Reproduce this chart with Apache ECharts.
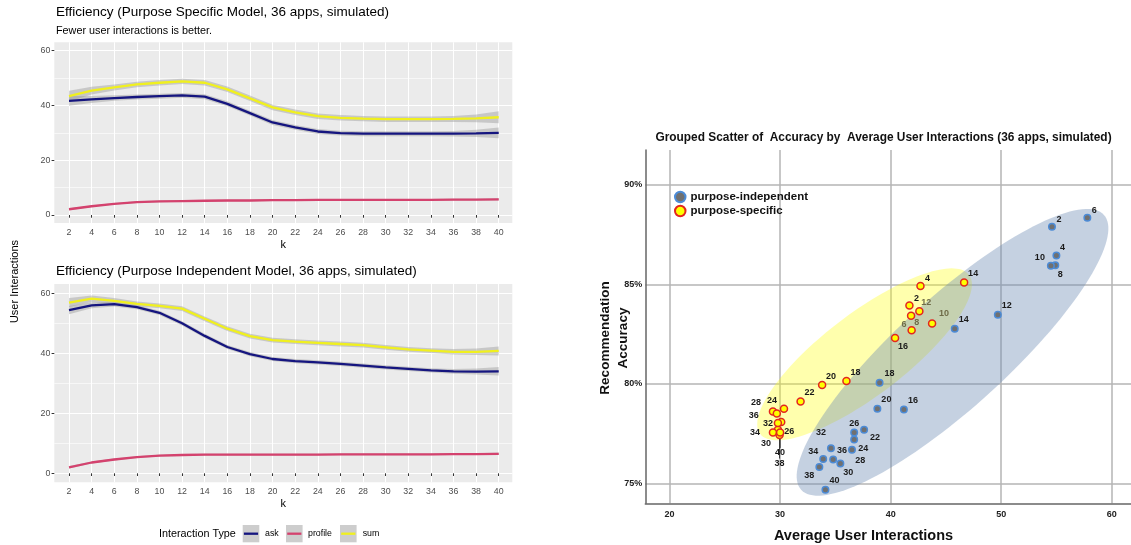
<!DOCTYPE html>
<html>
<head>
<meta charset="utf-8">
<script src="https://cdn.jsdelivr.net/npm/echarts@6/dist/echarts.min.js"></script>
<style>
  html, body { margin: 0; padding: 0; background: #ffffff; }
  #chart { width: 1131px; height: 545px; }
</style>
</head>
<body>
<div id="chart"></div>
<script>
// ---- data -------------------------------------------------------------
const kSteps = [2, 4, 6, 8, 10, 12, 14, 16, 18, 20, 22, 24, 26, 28, 30, 32, 34, 36, 38, 40];
const countTicks = [0, 20, 40, 60];
const countMinor = [10, 30, 50];

// Purpose specific model: mean interactions per k and half-width of the band
const specificAsk     = [41.7, 42.2, 42.7, 43.1, 43.4, 43.7, 43.2, 40.6, 37.2, 33.8, 32.0, 30.5, 29.9, 29.7, 29.7, 29.7, 29.7, 29.7, 29.8, 30.0];
const specificProfile = [2.1, 3.2, 4.1, 4.7, 5.0, 5.1, 5.2, 5.3, 5.3, 5.4, 5.4, 5.5, 5.5, 5.5, 5.5, 5.5, 5.5, 5.6, 5.6, 5.7];
const specificSum     = [43.4, 45.4, 46.6, 47.7, 48.3, 48.8, 48.3, 45.9, 42.6, 39.3, 37.5, 36.1, 35.5, 35.2, 35.0, 35.0, 35.0, 35.1, 35.3, 35.7];
const specificAskSe     = [1.8, 1.3, 1.0, 0.9, 0.9, 0.9, 0.9, 0.9, 0.9, 0.9, 0.9, 0.9, 0.9, 0.9, 0.9, 0.9, 0.9, 1.0, 1.3, 2.0];
const specificProfileSe = [0.4, 0.3, 0.3, 0.3, 0.3, 0.3, 0.3, 0.3, 0.3, 0.3, 0.3, 0.3, 0.3, 0.3, 0.3, 0.3, 0.3, 0.3, 0.3, 0.4];
const specificSumSe     = [2.0, 1.4, 1.1, 1.0, 1.0, 1.0, 1.0, 1.0, 1.0, 1.0, 1.0, 1.0, 1.0, 1.0, 1.0, 1.0, 1.0, 1.1, 1.4, 2.2];

// Purpose independent model
const independentAsk     = [54.4, 56.0, 56.4, 55.4, 53.5, 50.0, 45.8, 42.1, 39.7, 38.1, 37.4, 37.0, 36.5, 35.9, 35.3, 34.8, 34.3, 34.0, 33.9, 34.0];
const independentProfile = [2.0, 3.6, 4.6, 5.4, 5.9, 6.1, 6.2, 6.2, 6.2, 6.2, 6.2, 6.2, 6.3, 6.3, 6.3, 6.3, 6.3, 6.4, 6.4, 6.5];
const independentSum     = [56.9, 58.2, 57.5, 56.5, 55.8, 54.9, 51.5, 48.2, 45.7, 44.4, 43.9, 43.5, 43.1, 42.7, 42.0, 41.3, 40.9, 40.5, 40.5, 40.8];
const independentAskSe     = [1.4, 1.0, 0.8, 0.7, 0.7, 0.7, 0.7, 0.7, 0.7, 0.7, 0.7, 0.7, 0.7, 0.7, 0.7, 0.7, 0.7, 0.8, 1.0, 1.4];
const independentProfileSe = [0.4, 0.3, 0.3, 0.3, 0.3, 0.3, 0.3, 0.3, 0.3, 0.3, 0.3, 0.3, 0.3, 0.3, 0.3, 0.3, 0.3, 0.3, 0.3, 0.4];
const independentSumSe     = [1.5, 1.1, 0.9, 0.8, 0.8, 0.8, 0.8, 0.8, 0.8, 0.8, 0.8, 0.8, 0.8, 0.8, 0.8, 0.8, 0.8, 0.9, 1.1, 1.5];

// Accuracy vs. average user interactions, one point per k
const independentX = [54.6, 55.0, 57.8, 54.9, 54.5, 49.7, 45.8, 41.2, 39.0, 38.8, 37.6, 36.7, 36.7, 35.45, 34.8, 34.6, 33.9, 36.5, 33.55, 34.1];
const independentY = [87.9, 86.45, 88.35, 85.96, 85.93, 83.47, 82.77, 78.71, 80.06, 78.75, 77.70, 77.21, 77.56, 76.00, 76.20, 76.76, 76.22, 76.69, 75.82, 74.68];
const specificX = [41.7, 42.7, 41.85, 41.9, 43.75, 42.6, 46.65, 40.4, 36.0, 33.8, 31.85, 30.35, 30.1, 29.35, 29.8, 29.8, 29.35, 29.7, 29.95, 30.0];
const specificY = [83.94, 84.92, 83.42, 82.70, 83.03, 83.65, 85.09, 82.30, 80.14, 79.94, 79.12, 78.75, 78.08, 78.61, 77.70, 78.03, 77.56, 78.51, 77.43, 77.56];
const interactionTicks = [20, 30, 40, 50, 60];
const accuracyTicks = [75, 80, 85, 90];

// Group regions: two ends of the major axis, then one end of the minor axis
const independentRegion = [[31.9, 74.68], [59.3, 88.49], [42.25, 83.63]];
const specificRegion = [[28.19, 77.49], [47.09, 85.48], [35.38, 83.12]];

// ---- label placement (pixel nudges from each point, in k order) -------
const independentNudge = [[7,-7],[6,-8],[7,-7],[5,9],[-11,-8],[9,-9],[9,-9],[9,-9],[10,-9],[9,-9],
                          [11,8],[9,9],[0,-9],[20,-3],[15,13],[-10,-16],[-10,-8],[-10,1],[-10,8],[9,-9]];
const specificNudge = [[7,-7],[7,-7],[-7,9],[5,-8],[12,-10],[7,-9],[9,-9],[8,8],[9,-9],[9,-9],
                       [9,-9],[-12,-8],[8,9],[-17,-9],[-12,14],[-10,0],[-18,0],[-23,2],[0,28],[0,20]];
const mutedLabels = [6, 8, 10, 12];
const ledLabels = [38, 40];

// ---- styling ------------------------------------------------------------
const FONT = '"Liberation Sans", Arial, Helvetica, sans-serif';
const COL_ASK = '#15157f';
const COL_PROFILE = '#d4426e';
const COL_SUM = '#f0f01e';
const BAND = 'rgba(150,150,150,0.42)';

function bandSeries(xi, mid, se, withMinor) {
  const rows = kSteps.map((k, i) => [k, mid[i] - se[i], mid[i] + se[i]]);
  const s = {
    type: 'custom', xAxisIndex: xi, yAxisIndex: xi, z: 2, silent: true,
    data: rows, encode: { x: 0, y: [1, 2] },
    renderItem(params, api) {
      if (params.dataIndex !== 0) return null;
      const upper = rows.map(r => api.coord([r[0], r[2]]));
      const lower = rows.map(r => api.coord([r[0], r[1]])).reverse();
      return { type: 'polygon', shape: { points: upper.concat(lower) }, style: { fill: BAND } };
    }
  };
  if (withMinor) {
    s.markLine = {
      silent: true, symbol: 'none', z: 1, animation: false,
      label: { show: false },
      lineStyle: { color: '#ffffff', width: 0.6, type: 'solid', opacity: 1 },
      emphasis: { disabled: true },
      data: countMinor.map(v => ({ yAxis: v }))
    };
  }
  return s;
}

function lineSeries(name, xi, vals, color) {
  return {
    type: 'line', name, xAxisIndex: xi, yAxisIndex: xi, z: 3,
    data: kSteps.map((k, i) => [k, vals[i]]),
    symbol: 'none', silent: true,
    lineStyle: { color, width: 2.3 },
    itemStyle: { color }
  };
}

function regionSeries(name, pts, fill) {
  return {
    type: 'custom', name, xAxisIndex: 2, yAxisIndex: 2, z: 1, silent: true,
    data: pts, encode: { x: 0, y: 1 },
    renderItem(params, api) {
      if (params.dataIndex !== 0) return null;
      const a0 = api.coord(pts[0]), a1 = api.coord(pts[1]), co = api.coord(pts[2]);
      const cx = (a0[0] + a1[0]) / 2, cy = (a0[1] + a1[1]) / 2;
      const dx = a1[0] - a0[0], dy = a1[1] - a0[1];
      const len = Math.hypot(dx, dy), ux = dx / len, uy = dy / len;
      const ra = len / 2;
      const rb = Math.abs((co[0] - cx) * (-uy) + (co[1] - cy) * ux);
      const points = [];
      for (let i = 0; i < 144; i++) {
        const t = i / 144 * 2 * Math.PI;
        const c = Math.cos(t) * ra, s = Math.sin(t) * rb;
        points.push([cx + c * ux - s * uy, cy + c * uy + s * ux]);
      }
      return { type: 'polygon', shape: { points }, style: { fill } };
    }
  };
}

function pointSeries(name, xs, ys, nudge, look) {
  return {
    type: 'scatter', name, xAxisIndex: 2, yAxisIndex: 2, z: 4,
    symbol: 'circle', symbolSize: look.size,
    itemStyle: { color: look.fill, borderColor: look.border, borderWidth: 1.5, opacity: 1 },
    data: xs.map((x, i) => {
      const item = { value: [x, ys[i]] };
      if (look.muted && mutedLabels.includes(kSteps[i])) item.label = { color: '#6f6c48' };
      if (look.led && ledLabels.includes(kSteps[i])) item.labelLine = { show: true };
      return item;
    }),
    label: {
      show: true, position: 'inside', align: 'center', verticalAlign: 'middle',
      formatter: p => String(kSteps[p.dataIndex]),
      fontFamily: FONT, fontSize: 9, fontWeight: 'bold', color: '#1a1a1a'
    },
    labelLine: { show: false, lineStyle: { color: '#333333', width: 1 } },
    labelLayout: p => ({ dx: nudge[p.dataIndex][0], dy: nudge[p.dataIndex][1] }),
    emphasis: { disabled: true }
  };
}

function countXAxis(gi) {
  return {
    gridIndex: gi, type: 'value', min: 0.7, max: 41.2,
    name: 'k', nameLocation: 'middle', nameGap: 16,
    nameTextStyle: { fontFamily: FONT, fontSize: 11, color: '#000' },
    axisLine: { show: false },
    axisTick: { show: true, length: 2.7, customValues: kSteps, lineStyle: { color: '#333', width: 1 } },
    axisLabel: { customValues: kSteps, fontFamily: FONT, fontSize: 8.8, color: '#4d4d4d', margin: 5 },
    splitLine: { show: true, lineStyle: { color: '#ffffff', width: 1.1 } }
  };
}
function countYAxis(gi, lo, hi) {
  return {
    gridIndex: gi, type: 'value', min: lo, max: hi,
    axisLine: { show: false },
    axisTick: { show: true, length: 2.7, customValues: countTicks, lineStyle: { color: '#333', width: 1 } },
    axisLabel: { customValues: countTicks, fontFamily: FONT, fontSize: 8.8, color: '#4d4d4d', margin: 4 },
    splitLine: { show: true, lineStyle: { color: '#ffffff', width: 1.1 } }
  };
}

const keyX = [242.7, 286, 340];
const keyNames = ['ask', 'profile', 'sum'];
const keyColors = [COL_ASK, COL_PROFILE, COL_SUM];
const keyTextX = [265, 308, 362.7];
const legendParts = [
  { type: 'text', x: 159, y: 534, style: { text: 'Interaction Type', fontFamily: FONT, fontSize: 10.8, fill: '#000', align: 'left', verticalAlign: 'middle' } }
];
keyNames.forEach((n, i) => {
  legendParts.push({ type: 'rect', shape: { x: keyX[i], y: 525, width: 16.6, height: 17.3 }, style: { fill: '#cdcdcd' } });
  legendParts.push({ type: 'line', shape: { x1: keyX[i] + 1.2, y1: 533.7, x2: keyX[i] + 15.4, y2: 533.7 }, style: { stroke: keyColors[i], lineWidth: 2.3 } });
  legendParts.push({ type: 'text', x: keyTextX[i], y: 534, style: { text: n, fontFamily: FONT, fontSize: 8.8, fill: '#000', align: 'left', verticalAlign: 'middle' } });
});

const option = {
  animation: false,
  backgroundColor: '#ffffff',
  title: [
    { text: 'Efficiency (Purpose Specific Model, 36 apps, simulated)', left: 56, top: 5, padding: 0,
      textStyle: { fontFamily: FONT, fontSize: 13.5, fontWeight: 'normal', color: '#000' } },
    { text: 'Fewer user interactions is better.', left: 56, top: 26, padding: 0,
      textStyle: { fontFamily: FONT, fontSize: 10.8, fontWeight: 'normal', color: '#000' } },
    { text: 'Efficiency (Purpose Independent Model, 36 apps, simulated)', left: 56, top: 264.5, padding: 0,
      textStyle: { fontFamily: FONT, fontSize: 13.5, fontWeight: 'normal', color: '#000' } }
  ],
  legend: {
    data: ['purpose-independent', 'purpose-specific'],
    orient: 'vertical', left: 674, top: 190, padding: 0,
    itemWidth: 10.5, itemHeight: 10.5, itemGap: 0, icon: 'circle',
    textStyle: { fontFamily: FONT, fontSize: 11.5, fontWeight: 'bold', color: '#111', lineHeight: 14 },
    selectedMode: false
  },
  grid: [
    { left: 54.3, top: 42.3, width: 458, height: 180.7, show: true, backgroundColor: '#ebebeb', borderWidth: 0 },
    { left: 54.3, top: 284, width: 458, height: 198.3, show: true, backgroundColor: '#ebebeb', borderWidth: 0 },
    { left: 645.3, top: 150, width: 485.7, height: 353.3, show: false }
  ],
  xAxis: [
    countXAxis(0),
    countXAxis(1),
    {
      gridIndex: 2, type: 'value', min: 17.8, max: 61.75,
      axisLine: { show: true, onZero: false, lineStyle: { color: '#666', width: 1.5 } },
      axisTick: { show: false, customValues: interactionTicks },
      axisLabel: { customValues: interactionTicks, fontFamily: FONT, fontSize: 9, fontWeight: 'bold', color: '#222', margin: 7 },
      splitLine: { show: true, lineStyle: { color: '#b4b4b4', width: 1.5 } }
    }
  ],
  yAxis: [
    countYAxis(0, -2.92, 63.07),
    countYAxis(1, -3.0, 63.1),
    {
      gridIndex: 2, type: 'value', min: 74.0, max: 91.75,
      axisLine: { show: true, onZero: false, lineStyle: { color: '#666', width: 1.5 } },
      axisTick: { show: false, customValues: accuracyTicks },
      axisLabel: { customValues: accuracyTicks, formatter: '{value}%', fontFamily: FONT, fontSize: 9, fontWeight: 'bold', color: '#222', margin: 3 },
      splitLine: { show: true, lineStyle: { color: '#b4b4b4', width: 1.5 } }
    }
  ],
  series: [
    bandSeries(0, specificAsk, specificAskSe, true),
    bandSeries(0, specificProfile, specificProfileSe, false),
    bandSeries(0, specificSum, specificSumSe, false),
    lineSeries('ask', 0, specificAsk, COL_ASK),
    lineSeries('profile', 0, specificProfile, COL_PROFILE),
    lineSeries('sum', 0, specificSum, COL_SUM),

    bandSeries(1, independentAsk, independentAskSe, true),
    bandSeries(1, independentProfile, independentProfileSe, false),
    bandSeries(1, independentSum, independentSumSe, false),
    lineSeries('ask', 1, independentAsk, COL_ASK),
    lineSeries('profile', 1, independentProfile, COL_PROFILE),
    lineSeries('sum', 1, independentSum, COL_SUM),

    regionSeries('specific region', specificRegion, 'rgba(255,255,0,0.32)'),
    regionSeries('independent region', independentRegion, 'rgba(110,140,180,0.4)'),
    pointSeries('purpose-independent', independentX, independentY, independentNudge,
      { size: 6.5, fill: '#707070', border: '#4c8bd6' }),
    pointSeries('purpose-specific', specificX, specificY, specificNudge,
      { size: 7, fill: '#ffff00', border: '#e3261f', muted: true, led: true })
  ],
  graphic: [
    { type: 'text', x: 15, y: 281.5, rotation: Math.PI / 2,
      style: { text: 'User Interactions', fontFamily: FONT, fontSize: 11, fill: '#000', align: 'center', verticalAlign: 'middle' } },
    { type: 'text', x: 883.5, y: 137.6,
      style: { text: 'Grouped Scatter of  Accuracy by  Average User Interactions (36 apps, simulated)', fontFamily: FONT, fontSize: 11.9, fontWeight: 'bold', fill: '#111', align: 'center', verticalAlign: 'middle' } },
    { type: 'text', x: 863.5, y: 535.5,
      style: { text: 'Average User Interactions', fontFamily: FONT, fontSize: 14.5, fontWeight: 'bold', fill: '#111', align: 'center', verticalAlign: 'middle' } },
    { type: 'text', x: 614, y: 338, rotation: Math.PI / 2,
      style: { text: 'Recommendation\nAccuracy', fontFamily: FONT, fontSize: 13.5, fontWeight: 'bold', fill: '#111', align: 'center', verticalAlign: 'middle', lineHeight: 18 } },
    ...legendParts
  ]
};

const chart = echarts.init(document.getElementById('chart'), null, { renderer: 'canvas' });
chart.setOption(option);
</script>
</body>
</html>
